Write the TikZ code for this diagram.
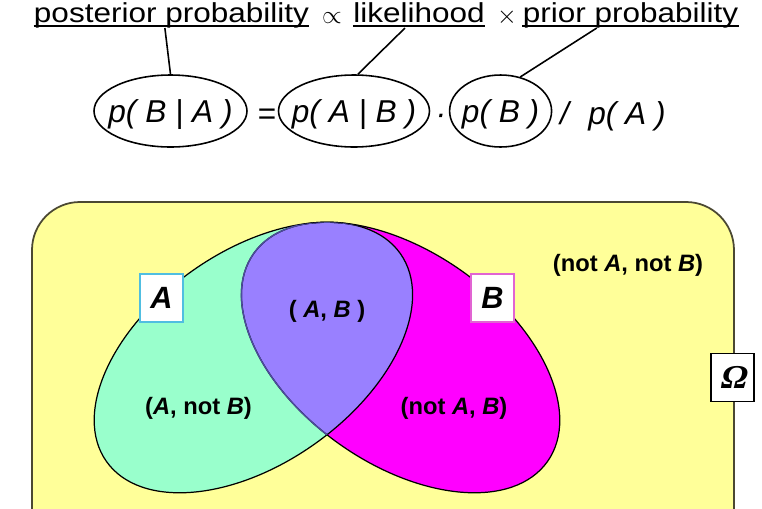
\documentclass[tikz,border=0pt]{standalone}
\usepackage{fontspec}
\setmainfont{Liberation Sans}
\newfontfamily\widesans[FakeStretch=1.15]{Liberation Sans}
\newfontfamily\omegaserif[FakeSlant=0.22]{Liberation Serif}
\usetikzlibrary{shapes.geometric,calc}
\definecolor{spaceyellow}{RGB}{255,255,153}
\definecolor{eventgreen}{RGB}{153,255,204}
\definecolor{eventmagenta}{RGB}{255,0,255}
\definecolor{bothpurple}{RGB}{153,128,255}
\definecolor{boxcyan}{RGB}{80,190,225}
\definecolor{boxpink}{RGB}{225,100,210}
\definecolor{frameedge}{RGB}{75,72,50}
\begin{document}
\begin{tikzpicture}[x=0.02cm,y=-0.02cm,
  word/.style={inner sep=0pt,font=\fontsize{15.6}{18}\widesans},
  eqn/.style={inner sep=0pt,font=\fontsize{18}{21}\selectfont\itshape,text depth=0pt},
  oval/.style={eqn,draw,ellipse,line width=0.9pt,minimum height=1.44cm},
  region/.style={inner sep=0pt,font=\fontsize{13.5}{16}\selectfont\bfseries},
  setbox/.style={draw,fill=white,line width=1pt,minimum width=0.86cm,minimum height=0.96cm,
    inner sep=0pt,font=\fontsize{17.5}{20}\selectfont\bfseries\itshape},
  ul/.style={line width=1.4pt},
  link/.style={line width=0.9pt}]
\useasboundingbox (0,0) rectangle (762,508);
\clip (0,0) rectangle (762,508);

% Bayes' rule in words
\node[word,anchor=base] (post) at (171.5,22) {posterior probability};
\node[word,anchor=base] (prop) at (332,23) {$\propto$};
\node[word,anchor=base] (lik) at (419,22) {likelihood};
\node[word,anchor=base] (times) at (507,23) {$\times$};
\node[word,anchor=base] (prior) at (630.5,22) {prior probability};
\foreach \w in {post,lik,prior}
  \draw[ul] ($(\w.base west)+(0,4)$) -- ($(\w.base east)+(0,4)$);

% Bayes' rule in symbols
\node[oval,minimum width=3.06cm] (postE) at (170.5,111) {\makebox[0pt]{p( B | A )}};
\node[eqn,anchor=base] (eq) at (266.5,124) {=};
\node[oval,minimum width=3.02cm] (likE) at (354,111) {\makebox[0pt]{p( A | B )}};
\node[eqn,anchor=base] (dot) at (441,124) {·};
\node[oval,minimum width=2.04cm] (priorE) at (500.6,111) {\makebox[0pt]{p( B )}};
\node[eqn,anchor=base] (slash) at (564.5,124) {/};
\node[eqn,anchor=base] (evid) at (627,124) {p( A )};

\draw[link] ($(post.base west)!0.476!(post.base east)+(0,6)$) -- (postE.north);
\draw[link] ($(lik.base west)!0.394!(lik.base east)+(0,6)$) -- (likE.84);
\draw[link] ($(prior.base west)!0.344!(prior.base east)+(0,6)$) -- (priorE.60);

% sample space and events
\draw[frameedge,fill=spaceyellow,line width=1pt,rounded corners=0.96cm]
  (32,202) rectangle (734,580);
\coordinate (cA) at (253.4,357.5);
\coordinate (cB) at (400.6,357.5);
\fill[eventgreen,rotate around={35.3:(cA)}] (cA) ellipse [x radius=180,y radius=106];
\fill[eventmagenta,rotate around={-35.3:(cB)}] (cB) ellipse [x radius=180,y radius=106];
\begin{scope}
  \clip[rotate around={35.3:(cA)}] (cA) ellipse [x radius=180,y radius=106];
  \fill[bothpurple,rotate around={-35.3:(cB)}] (cB) ellipse [x radius=180,y radius=106];
\end{scope}
\draw[line width=0.7pt,rotate around={35.3:(cA)}] (cA) ellipse [x radius=180,y radius=106];
\draw[line width=0.7pt,rotate around={-35.3:(cB)}] (cB) ellipse [x radius=180,y radius=106];
\begin{scope}
  \clip[rotate around={35.3:(cA)}] (cA) ellipse [x radius=180,y radius=106];
  \draw[line width=0.8pt,black!55!blue!70,rotate around={-35.3:(cB)}] (cB) ellipse [x radius=180,y radius=106];
\end{scope}

\node[region] (AnotB) at (198.5,408) {(\textit{A}, not \textit{B})};
\node[region] (AB) at (327,311) {( \textit{A}, \textit{B} )};
\node[region] (notAB) at (454,408) {(not \textit{A}, \textit{B})};
\node[region] (neither) at (628,265) {(not \textit{A}, not \textit{B})};

\node[setbox,draw=boxcyan] (boxA) at (161.5,298) {A};
\node[setbox,draw=boxpink] (boxB) at (492.5,298) {B};
\node[setbox,draw=black,font=\fontsize{19}{21}\omegaserif\bfseries] (omega) at (732.5,377.5) {Ω};
\end{tikzpicture}
\end{document}
